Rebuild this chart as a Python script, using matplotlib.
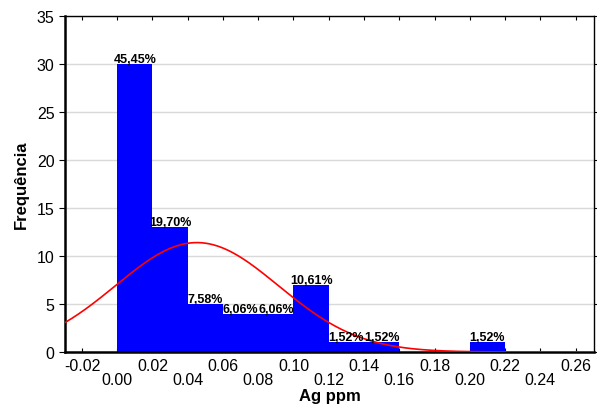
import numpy as np
import matplotlib.pyplot as plt

plt.rcParams['font.family'] = ['Liberation Sans', 'DejaVu Sans']

# histogram bins (Ag ppm) and counts
bin_left = [0.00, 0.02, 0.04, 0.06, 0.08, 0.10, 0.12, 0.14, 0.16, 0.18, 0.20]
counts = [30, 13, 5, 4, 4, 7, 1, 1, 0, 0, 1]
pct_labels = ['45,45%', '19,70%', '7,58%', '6,06%', '6,06%', '10,61%',
              '1,52%', '1,52%', '', '', '1,52%']
bin_width = 0.02

# fitted normal curve parameters
fit_mean = 0.0452
fit_sd = 0.0462

xticks = [-0.02, 0.00, 0.02, 0.04, 0.06, 0.08, 0.10, 0.12, 0.14, 0.16,
          0.18, 0.20, 0.22, 0.24, 0.26]
yticks = [0, 5, 10, 15, 20, 25, 30, 35]

fig = plt.figure(figsize=(5.97, 4.10), dpi=100)
ax = fig.add_axes([0.109, 0.139, 0.886, 0.8195])

ax.bar(bin_left, counts, width=bin_width, align='edge', color='#0000ff',
       edgecolor='none', zorder=2)

for x, c, lab in zip(bin_left, counts, pct_labels):
    if lab:
        ax.text(x + bin_width / 2, c - 0.1, lab, ha='center', va='bottom',
                fontsize=9, fontweight='bold', zorder=4)

xs = np.linspace(-0.0296, 0.2705, 400)
n = sum(counts)
ys = n * bin_width / (fit_sd * np.sqrt(2 * np.pi)) * np.exp(-0.5 * ((xs - fit_mean) / fit_sd) ** 2)
ax.plot(xs, ys, color='red', lw=1.2, zorder=3)

ax.set_xlim(-0.0296, 0.2705)
ax.set_ylim(0, 35)
ax.set_yticks(yticks)
ax.set_xticks(xticks)
labels = []
for i, t in enumerate(xticks):
    s = '%.2f' % t
    labels.append(s if i % 2 == 0 else '\n' + s)
ax.set_xticklabels(labels, fontsize=11.5, linespacing=0.95)
ax.tick_params(axis='y', labelsize=11.5, direction='out', length=4, right=True)
ax.tick_params(axis='x', direction='in', length=3, top=True, pad=4)
ax.yaxis.grid(True, color='#d9d9d9', lw=1, zorder=0)
ax.set_axisbelow(True)

for s in ['left', 'bottom']:
    ax.spines[s].set_linewidth(1.8)
for s in ['top', 'right']:
    ax.spines[s].set_linewidth(1.0)

ax.set_xlabel('Ag ppm', fontsize=12, fontweight='bold', labelpad=1)
ax.set_ylabel('Frequência', fontsize=12, fontweight='bold', labelpad=6)

fig.savefig('out.png', dpi=100)
